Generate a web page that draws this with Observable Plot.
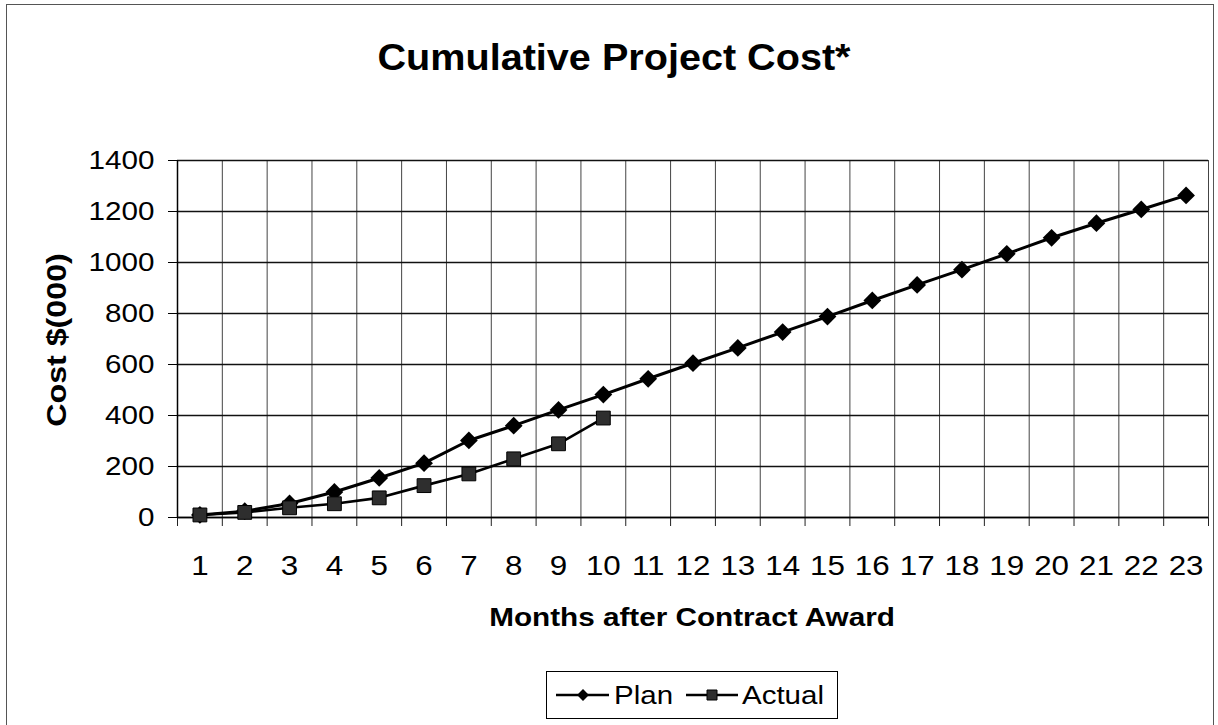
<!DOCTYPE html>
<html><head><meta charset="utf-8">
<script src="https://cdn.jsdelivr.net/npm/d3@7"></script>
<script src="https://cdn.jsdelivr.net/npm/@observablehq/plot@0.6"></script>
<style>
html,body{margin:0;padding:0;background:#fff;}
body{font-family:"Liberation Sans",Arial,Helvetica,sans-serif;color:#000;}
#wrap{position:relative;width:1218px;height:725px;overflow:hidden;background:#fff;}
#border{position:absolute;left:6px;top:4px;width:1208px;height:740px;border:1.5px solid #555;box-sizing:border-box;}
#chart{position:absolute;left:0;top:0;}
.t{position:absolute;white-space:nowrap;line-height:1;color:#000;}
#title{left:614px;top:57px;font-size:37px;font-weight:bold;transform:translate(-50%,-50%) scaleX(1.07);}
#xlabel{left:692px;top:617px;font-size:26.5px;font-weight:bold;transform:translate(-50%,-50%) scaleX(1.12);}
#ylabel{left:56.5px;top:340px;font-size:28px;font-weight:bold;transform:translate(-50%,-50%) rotate(-90deg) scaleX(1.15);}
#legend{position:absolute;left:546px;top:671px;width:292px;height:48px;border:1.3px solid #000;box-sizing:border-box;background:#fff;}
.lt{position:absolute;white-space:nowrap;line-height:1;font-size:25px;transform-origin:left center;transform:translateY(-50%) scaleX(1.18);top:23px;}
#legsym{position:absolute;left:0;top:0;}
</style></head><body>
<div id="wrap">
  <div id="border"></div>
  <div id="chart"></div>
  <div class="t" id="title">Cumulative Project Cost*</div>
  <div class="t" id="xlabel">Months after Contract Award</div>
  <div class="t" id="ylabel">Cost $(000)</div>
  <div id="legend">
    <svg id="legsym" width="292" height="48"></svg>
    <div class="lt" style="left:67px">Plan</div>
    <div class="lt" style="left:195px">Actual</div>
  </div>
</div>
<script>
// ---- data ----
const months = [1,2,3,4,5,6,7,8,9,10,11,12,13,14,15,16,17,18,19,20,21,22,23];
const planCost = [10,25,55,100,155,213,302,360,422,482,544,605,665,727,788,851,912,972,1034,1097,1154,1208,1263];
const actualMonths = [1,2,3,4,5,6,7,8,9,10];
const actualCost = [10,20,38,54,77,125,171,230,289,390];
const yTicks = [0,200,400,600,800,1000,1200,1400];
const seriesNames = ["Plan","Actual"];

const plan = months.map((m,i)=>({month:m,cost:planCost[i],series:seriesNames[0]}));
const actual = actualMonths.map((m,i)=>({month:m,cost:actualCost[i],series:seriesNames[1]}));
const bounds = months.map(m=>m-0.5).concat([months[months.length-1]+0.5]);

const chart = Plot.plot({
  width:1218, height:725,
  marginLeft:177, marginRight:10, marginTop:160, marginBottom:208,
  style:{fontFamily:'"Liberation Sans", Arial, sans-serif', background:"transparent", color:"#000", overflow:"visible"},
  x:{domain:[0.5,23.5], label:null},
  y:{domain:[0,1400], label:null},
  marks:[
    Plot.gridX(bounds,{stroke:"#444", strokeOpacity:1, strokeWidth:1}),
    Plot.gridY(yTicks,{stroke:"#111", strokeOpacity:1, strokeWidth:1.3}),
    Plot.axisX(bounds,{tickSize:9, tickFormat:()=>"", label:null, stroke:"#222", strokeWidth:1}),
    Plot.axisX(months,{tickSize:0, tickPadding:38, fontSize:28, tickFormat:d=>String(d), label:null}),
    Plot.axisY(yTicks,{tickSize:9, tickPadding:14, fontSize:26, tickFormat:d=>String(d), label:null, stroke:"#000"}),
    Plot.ruleX([0.5],{stroke:"#000", strokeWidth:1.5}),
    Plot.ruleY([0],{stroke:"#000", strokeWidth:1.5}),
    Plot.line(plan,{x:"month", y:"cost", stroke:"#000", strokeWidth:3}),
    Plot.line(actual,{x:"month", y:"cost", stroke:"#000", strokeWidth:2.6}),
    Plot.dot(plan,{x:"month", y:"cost", symbol:"diamond2", r:8, fill:"#000", stroke:null}),
    Plot.dot(actual,{x:"month", y:"cost", symbol:"square", r:7.8, fill:"#2e2e2e", stroke:"#000", strokeWidth:1})
  ]
});
document.getElementById("chart").appendChild(chart);

// widen tick label glyphs slightly to match the scanned original
d3.select(chart).selectAll('g[aria-label="x-axis tick label"] text').each(function(){
  const t=this.getAttribute("transform"); if(t) this.setAttribute("transform", t+" scale(1.12,1)");
});
d3.select(chart).selectAll('g[aria-label="y-axis tick label"] text').each(function(){
  const t=this.getAttribute("transform"); if(t) this.setAttribute("transform", t+" scale(1.14,1)");
});

// legend symbols
const lg = d3.select("#legsym");
lg.append("line").attr("x1",9).attr("x2",62).attr("y1",23).attr("y2",23).attr("stroke","#000").attr("stroke-width",2.5);
lg.append("path").attr("d",d3.symbol(d3.symbolDiamond2, 90)()).attr("transform","translate(36,23)").attr("fill","#000");
lg.append("line").attr("x1",139).attr("x2",191).attr("y1",23).attr("y2",23).attr("stroke","#000").attr("stroke-width",2.5);
lg.append("path").attr("d",d3.symbol(d3.symbolSquare, 100)()).attr("transform","translate(165,23)").attr("fill","#2e2e2e").attr("stroke","#000");
</script>
</body></html>
